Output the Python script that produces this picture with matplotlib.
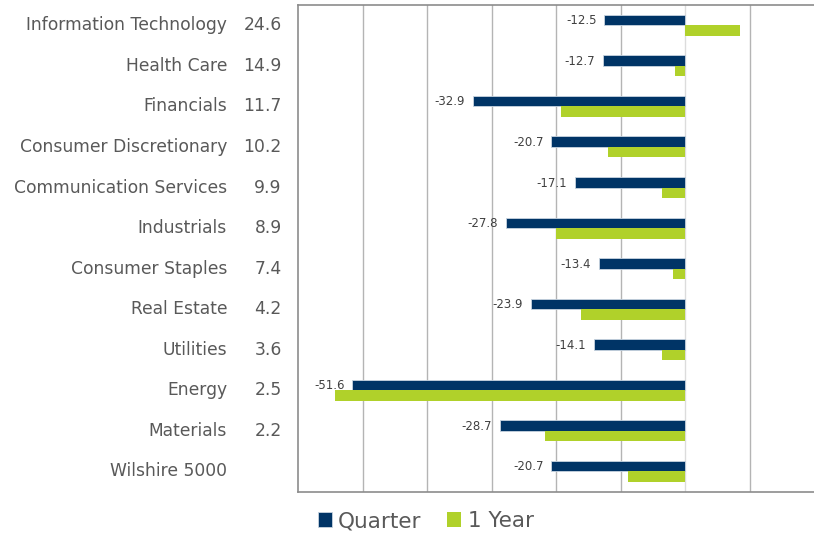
import matplotlib.pyplot as plt
import numpy as np

# Sector returns: quarter vs 1 year, with index weights
sectors = ['Information Technology', 'Health Care', 'Financials', 'Consumer Discretionary',
           'Communication Services', 'Industrials', 'Consumer Staples', 'Real Estate',
           'Utilities', 'Energy', 'Materials', 'Wilshire 5000']
weights = ['24.6', '14.9', '11.7', '10.2', '9.9', '8.9', '7.4', '4.2', '3.6', '2.5', '2.2', '']
quarter = [-12.5, -12.7, -32.9, -20.7, -17.1, -27.8, -13.4, -23.9, -14.1, -51.6, -28.7, -20.7]
one_year = [8.5, -1.6, -19.2, -12.0, -3.6, -20.0, -1.8, -16.1, -3.5, -54.3, -21.7, -8.8]

navy = '#003466'
green = '#b0d12a'
txt = '#595959'

fig = plt.figure(figsize=(8.14, 5.35), dpi=100)
ax = fig.add_axes([0.3661, 0.0809, 0.6339, 0.9098])

y = np.arange(len(sectors))
h = 0.26
ax.barh(y - h / 2, quarter, height=h, color=navy, edgecolor='#c8d4e0', linewidth=0.6, label='Quarter', zorder=3)
ax.barh(y + h / 2, one_year, height=h, color=green, edgecolor='none', label='1 Year', zorder=3)

for yi, q in zip(y, quarter):
    ax.text(q - 1.2, yi - h / 2 + 0.02, f'{q:.1f}', ha='right', va='center', fontsize=8.5, color='#404040', zorder=4)

ax.set_xlim(-60, 20)
ax.set_ylim(len(sectors) - 0.5, -0.5)
ax.set_xticks(np.arange(-60, 21, 10))
ax.set_xticklabels([])
ax.set_yticks([])
ax.tick_params(length=0)

for xv in range(-50, 20, 10):
    ax.axvline(xv, color='#dcdcdc' if xv == 0 else '#b4b4b4', linewidth=1.0, zorder=1)

for side in ['left', 'bottom', 'top']:
    ax.spines[side].set_color('#8c8c8c')
    ax.spines[side].set_linewidth(1.2)
ax.spines['right'].set_visible(False)

tr = ax.get_yaxis_transform()
for yi, name, w in zip(y, sectors, weights):
    ax.text(-0.1376, yi, name, transform=tr, ha='right', va='center', fontsize=12.3, color=txt)
    ax.text(-0.0316, yi, w, transform=tr, ha='right', va='center', fontsize=12.3, color=txt)

fig.legend(loc='center', bbox_to_anchor=(0.523, 0.026), ncol=2, frameon=False, fontsize=15.5,
           labelcolor=txt, handlelength=0.65, handleheight=0.65, handletextpad=0.3, columnspacing=1.2)

fig.savefig('out.png', dpi=100)
